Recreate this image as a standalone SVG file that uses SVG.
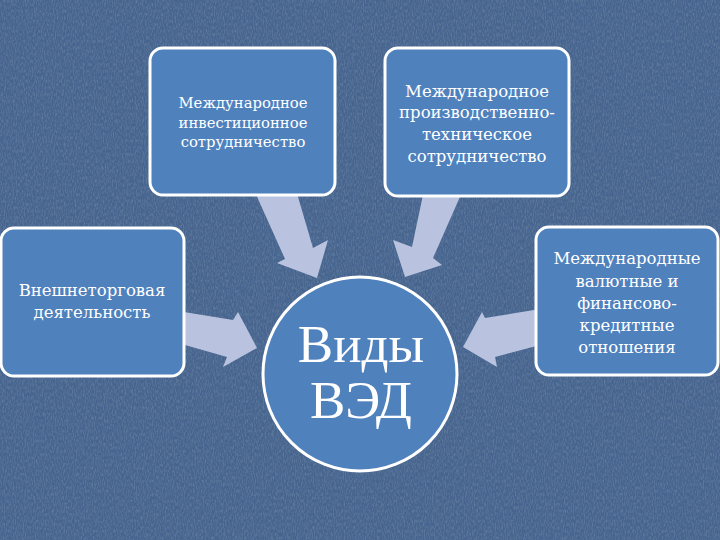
<svg xmlns="http://www.w3.org/2000/svg" width="720" height="540" viewBox="0 0 720 540">
  <defs>
    <filter id="noise" x="0" y="0" width="100%" height="100%">
      <feTurbulence type="fractalNoise" baseFrequency="0.9 0.3" numOctaves="2" seed="7" result="t"/>
      <feColorMatrix in="t" type="matrix" values="0 0 0 0 0.17  0 0 0 0 0.26  0 0 0 0 0.4  0 0 0 -2 1.25"/>
    </filter>
    <style>
      .box { fill: #4f81bd; stroke: #ffffff; stroke-width: 3; }
      .arrow { fill: #b9c3df; }
      .t { font-family: "DejaVu Serif", serif; fill: #ffffff; text-anchor: middle; }
      .big { font-family: "Liberation Serif", serif; fill: #ffffff; text-anchor: middle; font-size: 53px; }
    </style>
  </defs>
  <rect x="0" y="0" width="720" height="540" fill="#46648e"/>
  <rect x="0" y="0" width="720" height="540" filter="url(#noise)" opacity="0.6"/>

  <g id="connectors">
    <polygon class="arrow" points="254,190 296,190 313,248 328,240 317,278 277,263 285,259"/>
    <polygon class="arrow" points="424,190 463,190 433,258 442,265 405,277 393,240 412,247"/>
    <polygon class="arrow" points="178,311 233,320 238,312 257,348 223,367 227,357 178,343"/>
    <polygon class="arrow" points="540,309 485,318 482,312 463,347 497,367 495,357 540,345"/>
  </g>

  <g id="node-invest">
    <rect class="box" x="150" y="48" width="185" height="147" rx="13"/>
    <text class="t" font-size="14.8" x="243" y="108">Международное</text>
    <text class="t" font-size="14.8" x="243" y="128">инвестиционное</text>
    <text class="t" font-size="14.8" x="243" y="147">сотрудничество</text>
  </g>

  <g id="node-prod">
    <rect class="box" x="385" y="48" width="184" height="148" rx="13"/>
    <text class="t" font-size="16.5" x="477" y="97">Международное</text>
    <text class="t" font-size="16.5" x="477" y="118">производственно-</text>
    <text class="t" font-size="16.5" x="477" y="140">техническое</text>
    <text class="t" font-size="16.5" x="477" y="162">сотрудничество</text>
  </g>

  <g id="node-trade">
    <rect class="box" x="1" y="228" width="183" height="148" rx="13"/>
    <text class="t" font-size="16.5" x="92" y="296">Внешнеторговая</text>
    <text class="t" font-size="16.5" x="92" y="318">деятельность</text>
  </g>

  <g id="node-finance">
    <rect class="box" x="536" y="227" width="182" height="148" rx="13"/>
    <text class="t" font-size="16.5" x="627" y="264">Международные</text>
    <text class="t" font-size="16.5" x="627" y="287">валютные и</text>
    <text class="t" font-size="16.5" x="627" y="309">финансово-</text>
    <text class="t" font-size="16.5" x="627" y="331">кредитные</text>
    <text class="t" font-size="16.5" x="627" y="353">отношения</text>
  </g>

  <g id="node-center">
    <circle class="box" cx="360" cy="374" r="97"/>
    <text class="big" x="361" y="362">Виды</text>
    <text class="big" x="361" y="418">ВЭД</text>
  </g>
</svg>
